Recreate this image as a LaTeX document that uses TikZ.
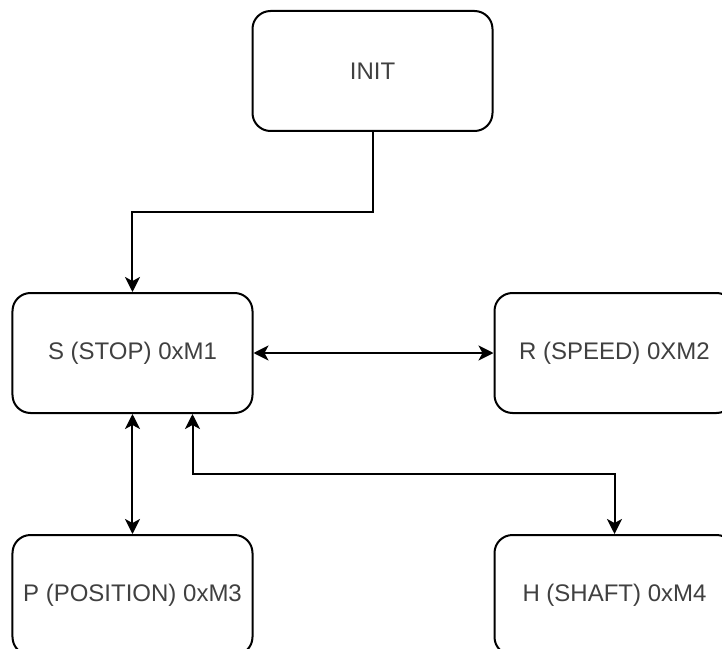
\documentclass[tikz,border=0pt]{standalone}
\usepackage{fontspec}
\setmainfont{Liberation Sans}
\usetikzlibrary{positioning,arrows.meta}

\begin{document}
\begin{tikzpicture}[node distance=60pt and 120pt,
    >={Stealth[length=7.5pt,width=7.5pt,inset=2pt]},
    state/.style={rectangle, draw, rounded corners=9pt, line width=1pt,
        minimum width=120pt, minimum height=60pt, text=black!75,
        font=\fontsize{12}{14}\selectfont},
    link/.style={line width=1pt}]
    \useasboundingbox (-66.25pt,-147.5pt) rectangle (294.75pt,176.5pt);

    \node[state] (stop) at (0,0) {S (STOP) 0xM1};
    \node[state, above=80pt of stop, xshift=120pt] (init) {INIT};
    \node[state, right=of stop] (speed) {R (SPEED) 0XM2};
    \node[state, below=of stop] (position) {P (POSITION) 0xM3};
    \node[state, below=of speed] (shaft) {H (SHAFT) 0xM4};

    % Transitions
    \draw[link, ->] (init.south) -- ++(0,-40pt) -| (stop.north);
    \draw[link, <->] (stop.east) -- (speed.west);
    \draw[link, <->] (stop.south) -- (position.north);
    \draw[link, <->] ([xshift=30pt]stop.south) -- ++(0,-30pt) -| (shaft.north);
\end{tikzpicture}
\end{document}
